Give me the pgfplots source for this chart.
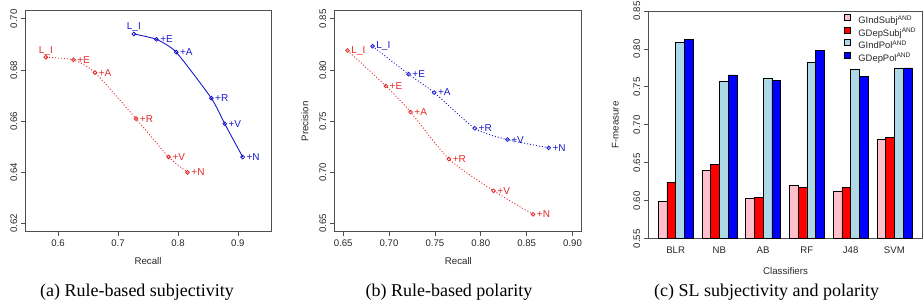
\documentclass[border=0pt]{standalone}
\usepackage{pgfplots}
\pgfplotsset{compat=1.18}
\usepackage{fontspec}
\setmainfont{Liberation Serif}
\newfontfamily\hv{Liberation Sans}
\definecolor{rred}{RGB}{228,40,40}
\definecolor{rblue}{RGB}{25,25,205}
\definecolor{bpink}{RGB}{255,192,203}
\definecolor{bred}{RGB}{255,0,0}
\definecolor{blblue}{RGB}{173,216,230}
\definecolor{bblue}{RGB}{0,0,255}
\definecolor{axgray}{RGB}{80,80,80}
\tikzset{dlab/.style={font=\hv\fontsize{10}{11}\selectfont, inner sep=3.5pt},
         dlabs/.style={font=\hv\fontsize{10}{11}\selectfont, inner sep=1.8pt}}
\pgfplotsset{
  rstyle/.style={
    scale only axis,
    anchor=south west,
    axis line style={axgray, line width=0.8pt},
    tick style={axgray, line width=0.8pt},
    tick align=outside,
    major tick length=4.3pt,
    tick pos=left,
    /pgf/number format/assume math mode=true,
    tick label style={font=\hv\fontsize{9.6}{10}\selectfont, text=black!85},
    yticklabel style={rotate=90, anchor=south},
    label style={font=\hv\fontsize{9.7}{11}\selectfont, text=black!85},
    clip=true,
  },
  rline/.style={line width=0.9pt, mark=o, mark size=1.9pt, mark options={solid, line width=0.8pt},
    nodes near coords, point meta=explicit symbolic},
}
\begin{document}
\begin{tikzpicture}[x=1pt,y=1pt]
\useasboundingbox (0,0) rectangle (924,304);
% ---------------- (a)
\begin{axis}[rstyle, at={(25pt,72.3pt)}, width=246pt, height=221pt,
  xmin=0.5448, xmax=0.9552, ymin=0.6168, ymax=0.7032,
  xtick={0.6,0.7,0.8,0.9}, ytick={0.62,0.64,0.66,0.68,0.70},
  xticklabel style={/pgf/number format/.cd, fixed, fixed zerofill, precision=1},
  yticklabel style={/pgf/number format/.cd, fixed, fixed zerofill, precision=2},
  xlabel={Recall},
  xlabel style={at={(axis description cs:0.5,-0.1326)}, anchor=center},
]
\addplot[rline, rred, dash pattern=on 1pt off 2pt, smooth, tension=0.35,
  every node near coord/.style={dlab, anchor=west, text=rred}]
  table[meta=lab] {
x y lab
0.5796 0.685 {}
0.6256 0.684 {+E}
0.6615 0.679 {+A}
0.7300 0.661 {+R}
0.7844 0.646 {+V}
0.8160 0.640 {+N}
};
\addplot[draw=none, nodes near coords, point meta=explicit symbolic,
  every node near coord/.style={dlabs, anchor=south, text=rred}]
  table[meta=lab] {
x y lab
0.5796 0.685 {L\_I}
};
\addplot[rline, rblue, smooth, tension=0.35,
  every node near coord/.style={dlab, anchor=west, text=rblue}]
  table[meta=lab] {
x y lab
0.7264 0.6941 {}
0.7640 0.692 {+E}
0.7970 0.687 {+A}
0.8556 0.669 {+R}
0.8780 0.659 {+V}
0.9080 0.646 {+N}
};
\addplot[draw=none, nodes near coords, point meta=explicit symbolic,
  every node near coord/.style={dlabs, anchor=south, text=rblue}]
  table[meta=lab] {
x y lab
0.7264 0.6941 {L\_I}
};
\end{axis}
% ---------------- (b)
\begin{axis}[rstyle, at={(334pt,72.3pt)}, width=247.7pt, height=221pt,
  xmin=0.64, xmax=0.91, ymin=0.642, ymax=0.858,
  xtick={0.65,0.70,0.75,0.80,0.85,0.90}, ytick={0.65,0.70,0.75,0.80,0.85},
  xticklabel style={/pgf/number format/.cd, fixed, fixed zerofill, precision=2},
  yticklabel style={/pgf/number format/.cd, fixed, fixed zerofill, precision=2},
  xlabel={Recall}, ylabel={Precision},
  xlabel style={at={(axis description cs:0.502,-0.1326)}, anchor=center},
  ylabel style={at={(axis description cs:-0.117,0.5)}, anchor=center},
]
\addplot[rline, rred, dash pattern=on 1pt off 2pt, smooth, tension=0.4,
  every node near coord/.style={dlab, anchor=west, text=rred}]
  table[meta=lab] {
x y lab
0.6548 0.819 {L\_I}
0.6965 0.7845 {+E}
0.7234 0.759 {+A}
0.7652 0.713 {+R}
0.8139 0.682 {+V}
0.8570 0.659 {+N}
};
\addplot[rline, rblue, dash pattern=on 1pt off 2pt, smooth, tension=0.4,
  every node near coord/.style={dlab, anchor=west, text=rblue}]
  table[meta=lab] {
x y lab
0.6820 0.8233 {L\_I}
0.7213 0.796 {+E}
0.7492 0.778 {+A}
0.7935 0.743 {+R}
0.8290 0.732 {+V}
0.8740 0.724 {+N}
};
\end{axis}
% ---------------- (c)
\begin{axis}[rstyle, at={(648pt,65.3pt)}, width=274pt, height=227.7pt,
  xmin=-0.16, xmax=31.16, ymin=0.55, ymax=0.85,
  xtick={3,8,13,18,23,28},
  xticklabels={BLR,NB,AB,RF,J48,SVM},
  ytick={0.55,0.60,0.65,0.70,0.75,0.80,0.85},
  yticklabel style={/pgf/number format/.cd, fixed, fixed zerofill, precision=2},
  x tick style={draw=none},
  xlabel={Classifiers}, ylabel={F-measure},
  xlabel style={at={(axis description cs:0.502,-0.1405)}, anchor=center},
  ylabel style={at={(axis description cs:-0.119,0.5)}, anchor=center},
  ybar, bar width=1, bar shift=0pt,
  legend style={at={(0.703,0.995)}, anchor=north west, draw=none, fill=none,
    font=\hv\fontsize{9.4}{10}\selectfont, row sep=0pt,
    nodes={inner sep=0pt, text height=9.6pt, text depth=2.9pt, text=black!85},
    /tikz/every odd column/.append style={column sep=8.5pt}},
  legend cell align=left,
  legend image code/.code={\draw[#1, draw=black, line width=0.4pt] (0pt,0.3pt) rectangle (5.7pt,6pt);},
]
\addplot[fill=bpink, draw=black, line width=0.5pt] coordinates {(1.5,0.599) (6.5,0.640) (11.5,0.6027) (16.5,0.620) (21.5,0.613) (26.5,0.6806)};
\addplot[fill=bred, draw=black, line width=0.5pt] coordinates {(2.5,0.6243) (7.5,0.648) (12.5,0.604) (17.5,0.6177) (22.5,0.618) (27.5,0.683)};
\addplot[fill=blblue, draw=black, line width=0.5pt] coordinates {(3.5,0.8087) (8.5,0.758) (13.5,0.762) (18.5,0.7824) (23.5,0.7727) (28.5,0.7745)};
\addplot[fill=bblue, draw=black, line width=0.5pt] coordinates {(4.5,0.8127) (9.5,0.7657) (14.5,0.759) (19.5,0.7977) (24.5,0.764) (29.5,0.775)};
\legend{GIndSubj\textsuperscript{AND}, GDepSubj\textsuperscript{AND}, GIndPol\textsuperscript{AND}, GDepPol\textsuperscript{AND}}
\end{axis}
% captions
\node[font=\fontsize{18}{20}\selectfont] at (137pt,12pt) {(a) Rule-based subjectivity};
\node[font=\fontsize{18}{20}\selectfont] at (449pt,12pt) {(b) Rule-based polarity};
\node[font=\fontsize{18}{20}\selectfont] at (766.5pt,12pt) {(c) SL subjectivity and polarity};
\end{tikzpicture}
\end{document}
